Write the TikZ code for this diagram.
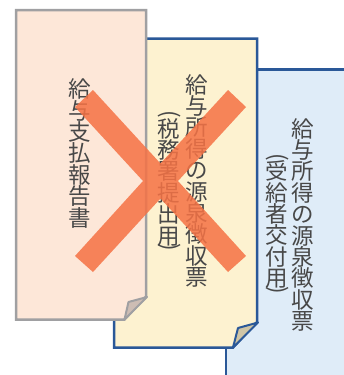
\documentclass[tikz,border=0pt]{standalone}
\usepackage{fontspec}
\newfontfamily\cjk{Noto Sans CJK JP}
\tikzset{
  page/.style={line width=2.5pt,line join=miter},
  foldpage/.style={line width=2pt,line join=round},
  greypage/.style={page,draw=pagegrey,fill=peach},
  yellowpage/.style={page,draw=pageblue,fill=cream},
  bluepage/.style={page,draw=pageblue,fill=sky},
  vtext/.style={font=\cjk\fontsize{22.5}{21.4}\selectfont,text=inkgrey,align=center,inner sep=0pt,anchor=north,text width=24pt},
  paren/.style={font=\cjk\fontsize{22.5}{21.4}\selectfont,text=inkgrey,inner sep=0pt,rotate=-90},
  cross/.style={fill=crossorange,fill opacity=0.86,draw=none}
}
\definecolor{pagegrey}{HTML}{A0A0A2}
\definecolor{pageblue}{HTML}{2A5898}
\definecolor{peach}{HTML}{FDE7D8}
\definecolor{cream}{HTML}{FDF2D0}
\definecolor{sky}{HTML}{DFECF8}
\definecolor{inkgrey}{HTML}{484848}
\definecolor{crossorange}{HTML}{F57245}
\definecolor{foldgrey}{HTML}{CDBDB4}
\definecolor{foldtan}{HTML}{CFC5A6}
\begin{document}
\begin{tikzpicture}[x=1pt,y=-1pt]
\useasboundingbox (0,0) rectangle (343,375);
% blue page
\path[bluepage] (226,380) -- (226,69.5) -- (350,69.5) -- (350,380) -- cycle;
% yellow page
\path[yellowpage] (233,347.5) -- (114,347.5) -- (114,38.5) -- (257,38.5) -- (257,322) -- cycle;
\path[foldpage,draw=pageblue,fill=foldtan] (233,347.5) -- (238,328) -- (258,322.5) -- cycle;
% grey page
\path[greypage] (124.5,319.5) -- (16,319.5) -- (16,10) -- (146,10) -- (146,296.5) -- cycle;
\path[foldpage,draw=pagegrey,fill=foldgrey] (124.5,319.5) -- (128.5,302) -- (147,297) -- cycle;
% texts
\node[vtext] (grey) at (80,78.5) {給\\与\\支\\払\\報\\告\\書};
\node[vtext] (yellowa) at (196.5,74) {給\\与\\所\\得\\の\\源\\泉\\徴\\収\\票};
\node[paren] (yopen) at (169,114) {(};
\node[vtext] (yellowb) at (169,118) {税\\務\\署\\提\\出\\用};
\node[paren] (yclose) at (169,247) {)};
\node[vtext] (bluea) at (303,118) {給\\与\\所\\得\\の\\源\\泉\\徴\\収\\票};
\node[paren] (bopen) at (277,157) {(};
\node[vtext] (blueb) at (277,160.5) {受\\給\\者\\交\\付\\用};
\node[paren] (bclose) at (277,290.5) {)};
% cross
\path[cross] (93,90) -- (160.5,163.5) -- (228,90) -- (246,107) -- (178,181) -- (246,256) -- (228,272) -- (160.5,198.5) -- (93,272) -- (75,256) -- (143,181) -- (75,107) -- cycle;
\end{tikzpicture}
\end{document}
